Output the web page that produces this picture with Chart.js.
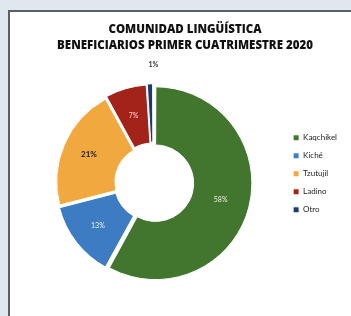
<!DOCTYPE html>
<html>
<head>
<meta charset="utf-8">
<script src="https://cdn.jsdelivr.net/npm/chart.js@4"></script>
<style>
  html, body { margin: 0; padding: 0; }
  body { width: 351px; height: 316px; background: #e1e7ee; overflow: hidden; position: relative; }
  #box { position: absolute; left: 8px; top: 10px; width: 343px; height: 306px;
         background: #fff; border-left: 2px solid #5a5f66; border-top: 2px solid #5a5f66; }
  #chart { position: absolute; left: 0; top: 0; }
</style>
</head>
<body>
<div id="box"><canvas id="chart" width="341" height="304"></canvas></div>
<script>
// Datos
const categories = ['Kaqchikel', 'Kiché', 'Tzutujil', 'Ladino', 'Otro'];
const values = [58, 13, 21, 7, 1];
const titleLines = ['COMUNIDAD LINGÜÍSTICA', 'BENEFICIARIOS PRIMER CUATRIMESTRE 2020'];

const sliceColors = ['#42762f', '#3d7cc2', '#f0a83f', '#a3231a', '#1b3c6a'];
const labelColors = ['#e8f0e0', '#eef3fb', '#1a1a1a', '#f4d6d0', '#333333'];

// porcentajes sobre cada sector
const pctLabels = {
    id: 'pctLabels',
    afterDatasetsDraw(chart) {
        const ctx = chart.ctx;
        const meta = chart.getDatasetMeta(0);
        ctx.save();
        ctx.textAlign = 'center';
        ctx.textBaseline = 'middle';
        meta.data.forEach((arc, i) => {
            let pos = arc.tooltipPosition();
            if (values[i] < 3) {
                // sector pequeño: etiqueta afuera
                const a = (arc.startAngle + arc.endAngle) / 2;
                const r = arc.outerRadius + arc.options.offset + 14;
                pos = { x: arc.x + Math.cos(a) * r + 4, y: arc.y + Math.sin(a) * r };
            }
            ctx.fillStyle = labelColors[i];
            ctx.font = (i === 2 || i === 4 ? 'bold ' : '') + (i === 2 ? '8px' : '7px') + ' Lato';
            ctx.fillText(values[i] + '%', pos.x, pos.y);
        });
        ctx.restore();
    }
};

const chart = new Chart(document.getElementById('chart'), {
    type: 'doughnut',
    data: {
        labels: categories,
        datasets: [{
            data: values,
            backgroundColor: sliceColors,
            borderColor: '#ffffff',
            borderWidth: 1,
            offset: 10
        }]
    },
    options: {
        responsive: false,
        animation: false,
        cutout: '38%',
        layout: {
            padding: { left: 13, right: 4, top: 6, bottom: 34 }
        },
        plugins: {
            title: {
                display: true,
                text: titleLines,
                color: '#111',
                font: { family: 'Open Sans', size: 11.5, weight: 800, lineHeight: 1.4 },
                padding: { top: 4, bottom: 29 }
            },
            legend: {
                position: 'right',
                title: {
                    display: true,
                    text: ' ',
                    font: { size: 8 },
                    padding: { top: 38, bottom: 0 }
                },
                labels: {
                    boxWidth: 6,
                    boxHeight: 6,
                    padding: 10,
                    color: '#222',
                    font: { family: 'Lato', size: 8 }
                }
            },
            tooltip: { enabled: false }
        }
    },
    plugins: [pctLabels]
});
</script>
</body>
</html>
